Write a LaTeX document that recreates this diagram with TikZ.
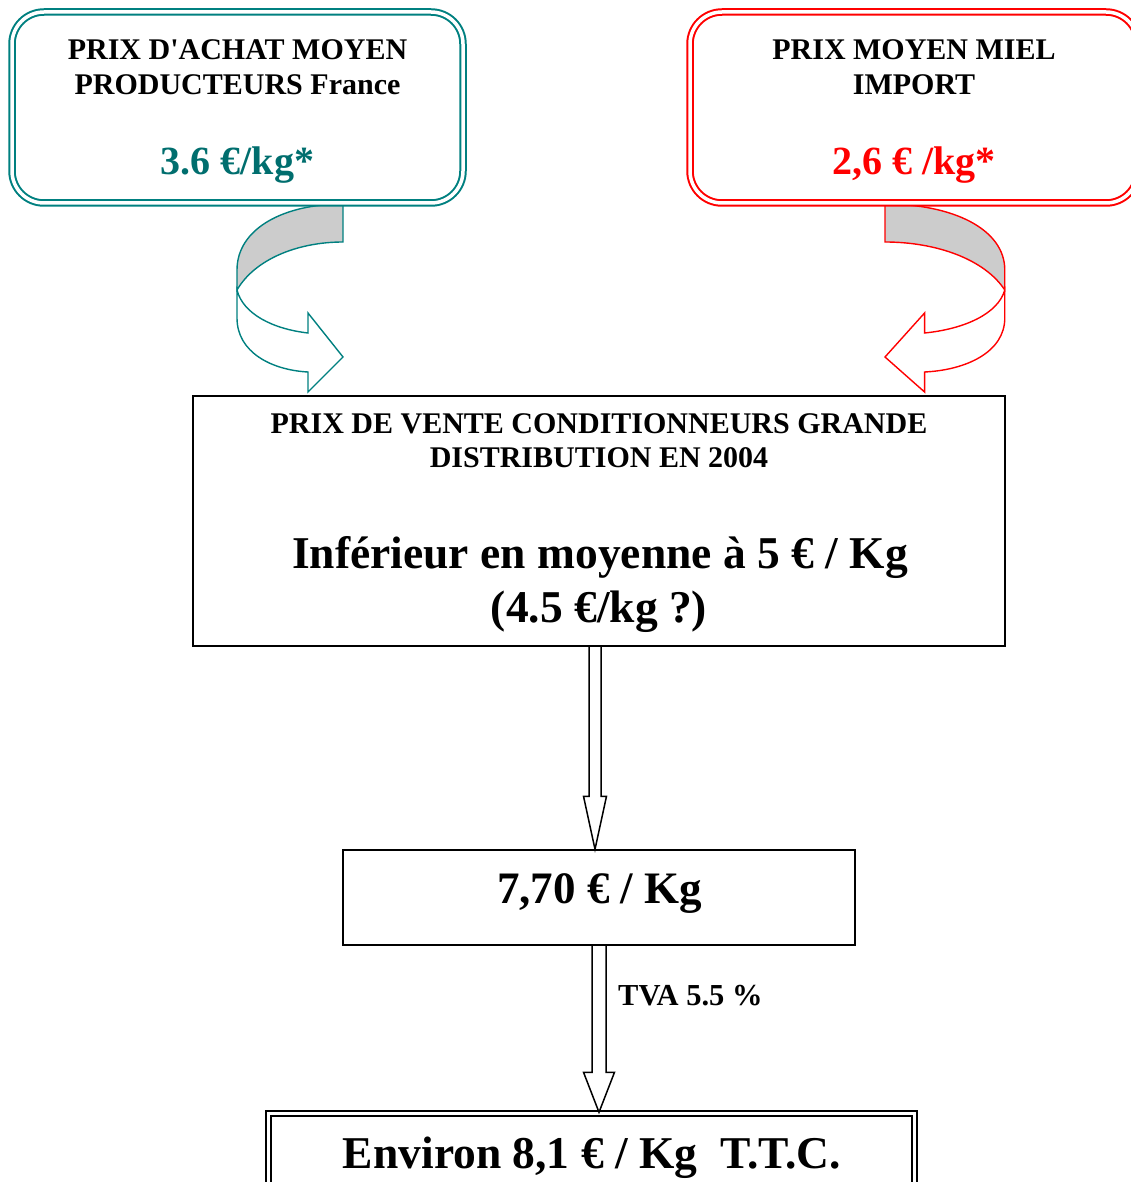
\documentclass[tikz,border=0pt]{standalone}
\usepackage{fontspec}
\setmainfont{Liberation Serif}
\usepackage{tikz}
\usetikzlibrary{calc}
\definecolor{MTeal}{RGB}{0,128,128}
\definecolor{MTealDark}{RGB}{0,110,110}
\definecolor{MRed}{RGB}{255,0,0}
\definecolor{MShade}{RGB}{204,204,204}

% curled ribbon arrow, local frame: origin at the inner top corner
\newcommand\ribbonarrow[1]{%
  \filldraw[#1, fill=white, line width=1.4, line join=miter]
    (106,86) .. controls (100,110) and (70,125) .. (35,129) -- (35,109) -- (0,153)
    -- (35,188) -- (35,168) .. controls (72,166) and (106,148) .. (106,114) -- cycle;
  \filldraw[#1, fill=MShade, line width=1.4]
    (0,0) .. controls (60,0) and (106,25) .. (106,66) -- (106,86)
    .. controls (88,55) and (45,38) .. (0,38) -- cycle;
}
% hollow block arrow: from, tip, half shaft, half head, head length
\newcommand\hollowarrow[5]{%
  \draw[arrowline] ($(#1)+(-#3,0)$) -- ($(#2)+(-#3,-#5)$) -- ($(#2)+(-#4,-#5)$) -- (#2)
    -- ($(#2)+(#4,-#5)$) -- ($(#2)+(#3,-#5)$) -- ($(#1)+(#3,0)$);
}

\begin{document}
\begin{tikzpicture}[x=1pt, y=-1pt,
    roundbox/.style={rounded corners=32, line width=2, double=white,
                     double distance=3.5, inner sep=0},
    plainbox/.style={draw=black, line width=1.5, inner sep=0},
    hdr/.style={font=\fontsize{30}{35}\selectfont\bfseries, anchor=base, inner sep=0},
    bigtxt/.style={font=\fontsize{45.5}{50}\selectfont\bfseries, anchor=base, inner sep=0},
    arrowline/.style={draw=black, line width=1.5, line join=miter}]
  \useasboundingbox (0,0) rectangle (1131,1182);
  \clip (0,0) rectangle (1131,1182);

  % ---- curled arrows under the top boxes ----
  \begin{scope}[shift={(343,204)}, xscale=-1]
    \ribbonarrow{MTeal}
  \end{scope}
  \begin{scope}[shift={(885,204)}, xscale=1.13]
    \ribbonarrow{MRed}
  \end{scope}

  % ---- top boxes ----
  \node[roundbox, draw=MTeal, minimum width=451, minimum height=191] (prodbox) at (237.5,107.5) {};
  \node[hdr] (prodl1) at (237.5,60) {PRIX D\textquotesingle ACHAT MOYEN};
  \node[hdr] (prodl2) at (237.5,95) {PRODUCTEURS France};
  \node[hdr, font=\fontsize{40}{44}\selectfont\bfseries, text=MTealDark] (prodval) at (237.5,175) {3.6 €/kg*};

  \node[roundbox, draw=MRed, minimum width=448, minimum height=191] (importbox) at (914,107.5) {};
  \node[hdr] (impl1) at (914,60) {PRIX MOYEN MIEL};
  \node[hdr] (impl2) at (914,95) {IMPORT};
  \node[hdr, font=\fontsize{40}{44}\selectfont\bfseries, text=MRed] (impval) at (914,175) {2,6 € /kg*};

  % ---- packers' price ----
  \node[plainbox, minimum width=812, minimum height=250] (ventebox) at (599,521) {};
  \node[hdr] (ventel1) at (599,433) {PRIX DE VENTE CONDITIONNEURS GRANDE};
  \node[hdr] (ventel2) at (599,467) {DISTRIBUTION EN 2004};
  \node[bigtxt] (ventev1) at (600,568) {Inférieur en moyenne à 5 € / Kg};
  \node[bigtxt] (ventev2) at (599,622) {(4.5 €/kg ?)};

  % ---- shelf price ----
  \node[plainbox, minimum width=512, minimum height=95] (prixbox) at (599,897.5) {};
  \node[bigtxt, font=\fontsize{45}{50}\selectfont\bfseries] (prixval) at (599.5,903) {7,70 € / Kg};

  % ---- final price ----
  \node[roundbox, rounded corners=0, draw=black, line width=2, double distance=2.5,
        minimum width=646, minimum height=127] (ttcbox) at (591.5,1176.75) {};
  \node[bigtxt] (ttcval) at (592,1168) {Environ 8,1 € / Kg\ \ T.T.C.};

  % ---- block arrows ----
  \coordinate (a1from) at ($(ventebox.south)+(-4,0)$);
  \coordinate (a1to) at ($(prixbox.north)+(-4,0)$);
  \hollowarrow{a1from}{a1to}{6}{11.5}{53}
  \coordinate (a2to) at (prixbox.south |- ttcbox.north);
  \hollowarrow{prixbox.south}{a2to}{7}{15.5}{40}
  \node[hdr, anchor=base west, font=\fontsize{30.5}{34}\selectfont\bfseries] (tvalabel) at (618,1005) {TVA 5.5 \%};
\end{tikzpicture}
\end{document}
